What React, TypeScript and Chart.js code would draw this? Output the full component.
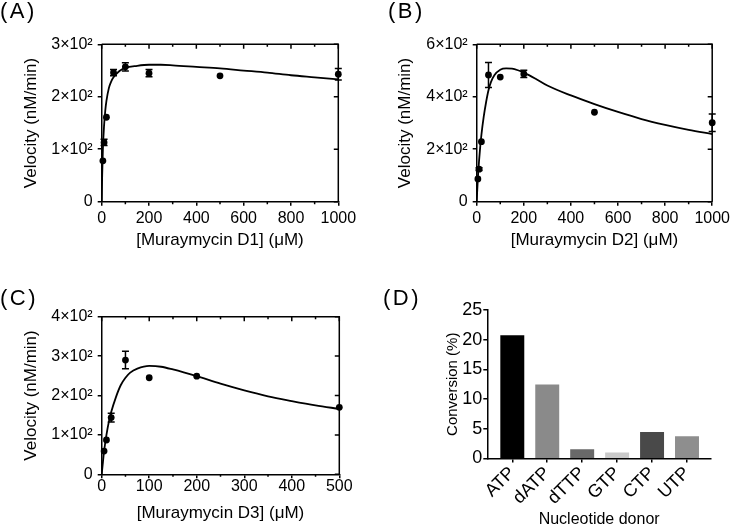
import React, { useEffect, useRef } from 'react';
import { Chart, registerables } from 'chart.js';

Chart.register(...registerables);

const FONT = "'Liberation Sans', Arial, Helvetica, sans-serif";
Chart.defaults.font.family = FONT;
Chart.defaults.color = '#000';

// ---------- Panel A: Muraymycin D1 ----------
const concA = [5, 10, 20, 50, 100, 200, 500, 1000];
const velA = [78, 113, 161, 246, 257, 245, 240, 243];
const errA = [0, 6, 0, 6, 8, 7, 0, 11];
const fitXA = [0, 2, 5, 10, 15, 20, 30, 40, 50, 75, 100, 150, 200, 250, 300, 400, 500, 600, 700, 800, 900, 1000];
const fitYA = [0, 50, 100, 145, 173, 192, 216, 229, 237, 249, 255, 259, 261, 261, 260, 257, 254, 250, 246, 241, 237, 233];
const yLabelsA = ['0', '1×10²', '2×10²', '3×10²'];

// ---------- Panel B: Muraymycin D2 ----------
const concB = [5, 10, 20, 50, 100, 200, 500, 1000];
const velB = [87, 124, 229, 483, 475, 487, 341, 301];
const errB = [0, 5, 0, 48, 0, 14, 0, 33];
const fitXB = [0, 2, 5, 10, 15, 20, 30, 40, 50, 60, 75, 100, 125, 150, 175, 200, 250, 300, 400, 500, 600, 700, 800, 900, 1000];
const fitYB = [0, 38, 90, 155, 210, 255, 325, 380, 425, 455, 482, 503, 508, 507, 501, 492, 469, 443, 405, 372, 342, 315, 293, 274, 258];
const yLabelsB = ['0', '2×10²', '4×10²', '6×10²'];

// ---------- Panel C: Muraymycin D3 ----------
const concC = [5, 10, 20, 50, 100, 200, 500];
const velC = [59, 87, 144, 290, 245, 249, 170];
const errC = [0, 0, 11, 22, 0, 0, 0];
const fitXC = [0, 2, 5, 10, 15, 20, 30, 40, 50, 60, 75, 100, 125, 150, 200, 250, 300, 350, 400, 450, 500];
const fitYC = [0, 24, 58, 100, 133, 158, 196, 226, 245, 258, 268, 275, 273, 266, 249, 230, 213, 198, 186, 175, 166];
const yLabelsC = ['0', '1×10²', '2×10²', '3×10²', '4×10²'];

// ---------- Panel D: Nucleotide donors ----------
const donors = ['ATP', 'dATP', 'dTTP', 'GTP', 'CTP', 'UTP'];
const conversion = [20.7, 12.4, 1.5, 0.95, 4.4, 3.7];
const barColors = ['#000000', '#8a8a8a', '#696969', '#cacaca', '#494949', '#8e8e8e'];

const framePlugin = {
  id: 'frame',
  beforeDatasetsDraw(chart: any, _args: any, opts: any) {
    if (!opts || !opts.enabled) return;
    const { ctx, chartArea: a } = chart;
    const x = chart.scales.x;
    const y = chart.scales.y;
    ctx.save();
    ctx.strokeStyle = '#000';
    ctx.lineWidth = 1.5;
    ctx.beginPath();
    ctx.moveTo(a.left, a.top);
    ctx.lineTo(a.right, a.top);
    ctx.lineTo(a.right, a.bottom);
    ctx.stroke();
    ctx.beginPath();
    x.ticks.forEach((t: any) => {
      const px = x.getPixelForValue(t.value);
      ctx.moveTo(px, a.top);
      ctx.lineTo(px, a.top + 4.5);
    });
    (opts.xMinor || []).forEach((v: number) => {
      const px = x.getPixelForValue(v);
      ctx.moveTo(px, a.top);
      ctx.lineTo(px, a.top + 2.5);
      ctx.moveTo(px, a.bottom);
      ctx.lineTo(px, a.bottom + 2.5);
    });
    y.ticks.forEach((t: any) => {
      const py = y.getPixelForValue(t.value);
      ctx.moveTo(a.right, py);
      ctx.lineTo(a.right - 4.5, py);
    });
    ctx.stroke();
    ctx.restore();
  },
};

const errorBarPlugin = {
  id: 'errorBars',
  afterDatasetsDraw(chart: any, _args: any, opts: any) {
    if (!opts || !opts.errors) return;
    const ds = chart.data.datasets[opts.datasetIndex];
    const x = chart.scales.x;
    const y = chart.scales.y;
    const ctx = chart.ctx;
    ctx.save();
    ctx.strokeStyle = '#000';
    ctx.lineWidth = 1.5;
    ds.data.forEach((d: any, i: number) => {
      const e = opts.errors[i];
      if (!e) return;
      const px = x.getPixelForValue(d.x);
      const top = y.getPixelForValue(d.y + e);
      const bot = y.getPixelForValue(d.y - e);
      ctx.beginPath();
      ctx.moveTo(px, top);
      ctx.lineTo(px, bot);
      ctx.moveTo(px - 3.5, top);
      ctx.lineTo(px + 3.5, top);
      ctx.moveTo(px - 3.5, bot);
      ctx.lineTo(px + 3.5, bot);
      ctx.stroke();
    });
    ctx.restore();
  },
};

Chart.register(framePlugin as any, errorBarPlugin as any);

const axisGrid = {
  display: true,
  drawOnChartArea: false,
  drawTicks: true,
  tickLength: 4,
  color: '#000',
  lineWidth: 1.5,
  offset: false,
};
const axisBorder = { display: true, color: '#000', width: 1.5 };

interface KParams {
  conc: number[]; vel: number[]; err: number[]; fitX: number[]; fitY: number[];
  yLabels: string[]; xMax: number; xStep: number; yMax: number; yStep: number; xMinor: number[];
  xTitle: string; padding: any; yAxisW: number; xAxisH: number; xTickPad: number;
  xTitlePad: number; yTitlePad: number;
}

function kineticConfig(p: KParams): any {
  return {
    type: 'scatter',
    data: {
      datasets: [
        {
          type: 'line',
          data: p.fitX.map((x, i) => ({ x, y: p.fitY[i] })),
          borderColor: '#000',
          borderWidth: 1.8,
          pointRadius: 0,
          showLine: true,
          fill: false,
          cubicInterpolationMode: 'monotone',
        },
        {
          type: 'scatter',
          data: p.conc.map((x, i) => ({ x, y: p.vel[i] })),
          backgroundColor: '#000',
          borderColor: '#000',
          pointRadius: 3.4,
          borderWidth: 0,
          clip: false,
        },
      ],
    },
    options: {
      responsive: false,
      animation: false,
      events: [],
      layout: { padding: p.padding },
      plugins: {
        legend: { display: false },
        tooltip: { enabled: false },
        frame: { enabled: true, xMinor: p.xMinor },
        errorBars: { errors: p.err, datasetIndex: 1 },
      },
      scales: {
        x: {
          type: 'linear',
          min: 0,
          max: p.xMax,
          ticks: {
            stepSize: p.xStep, padding: p.xTickPad, font: { size: 16 }, maxRotation: 0, color: '#000',
            callback: (v: any) => String(v),
          },
          grid: axisGrid,
          border: axisBorder,
          title: { display: true, text: p.xTitle, font: { size: 17 }, color: '#000', padding: { top: 0, bottom: p.xTitlePad } },
          afterFit: (s: any) => { s.height = p.xAxisH; },
        },
        y: {
          type: 'linear',
          min: 0,
          max: p.yMax,
          ticks: { stepSize: p.yStep, padding: 5, font: { size: 16 }, color: '#000', callback: (_v: any, i: number) => p.yLabels[i] },
          grid: axisGrid,
          border: axisBorder,
          title: { display: true, text: 'Velocity (nM/min)', font: { size: 17 }, color: '#000', padding: { top: p.yTitlePad, bottom: 0 } },
          afterFit: (s: any) => { s.width = p.yAxisW; },
        },
      },
    },
  };
}

function barConfig(): any {
  return {
    type: 'bar',
    data: {
      datasets: [
        {
          data: donors.map((_, i) => ({ x: i, y: conversion[i] })),
          backgroundColor: barColors,
          borderWidth: 0,
          barThickness: 23.3,
        },
      ],
    },
    options: {
      responsive: false,
      animation: false,
      events: [],
      layout: { padding: { left: 0, top: 48, right: 22, bottom: 0 } },
      plugins: { legend: { display: false }, tooltip: { enabled: false } },
      scales: {
        x: {
          type: 'linear',
          min: -0.7155,
          max: 5.687,
          offset: false,
          afterBuildTicks: (s: any) => { s.ticks = donors.map((_, i) => ({ value: i })); },
          ticks: {
            autoSkip: false,
            minRotation: 45,
            maxRotation: 45,
            padding: 0,
            font: { size: 18 },
            color: '#000',
            callback: (v: any) => donors[Math.round(v)],
          },
          grid: axisGrid,
          border: axisBorder,
          title: { display: true, text: 'Nucleotide donor', font: { size: 16 }, color: '#000', padding: { top: 0, bottom: -1.6 } },
          afterFit: (s: any) => { s.height = 69.5; },
        },
        y: {
          type: 'linear',
          min: 0,
          max: 25,
          ticks: { stepSize: 5, padding: 1, font: { size: 18 }, color: '#000' },
          grid: axisGrid,
          border: axisBorder,
          title: { display: true, text: 'Conversion (%)', font: { size: 15 }, color: '#000', padding: { top: 77.5, bottom: 0 } },
          afterFit: (s: any) => { s.width = 121.3; },
        },
      },
    },
  };
}

function Panel({ left, top, w, h, make }: { left: number; top: number; w: number; h: number; make: () => any }) {
  const ref = useRef<HTMLCanvasElement | null>(null);
  useEffect(() => {
    if (!ref.current) return;
    const chart = new Chart(ref.current, make());
    return () => chart.destroy();
  }, []);
  return (
    <canvas
      ref={ref}
      width={w}
      height={h}
      style={{ position: 'absolute', left, top, width: w, height: h, display: 'block' }}
    />
  );
}

const letterStyle: React.CSSProperties = {
  position: 'absolute',
  fontFamily: FONT,
  fontSize: 22,
  lineHeight: '22px',
  letterSpacing: 2.5,
  color: '#000',
  whiteSpace: 'nowrap',
};

export default function App() {
  return (
    <div style={{ position: 'absolute', left: 0, top: 0, width: 733, height: 528, background: '#fff', overflow: 'hidden' }}>
      <Panel
        left={0} top={0} w={366} h={262}
        make={() => kineticConfig({
          conc: concA, vel: velA, err: errA, fitX: fitXA, fitY: fitYA, yLabels: yLabelsA,
          xMax: 1000, xStep: 200, yMax: 300, yStep: 100, xMinor: [100, 300, 500, 700, 900],
          xTitle: '[Muraymycin D1] (μM)', padding: { left: 0, top: 44.3, right: 27.7, bottom: 0 },
          yAxisW: 101.7, xAxisH: 60.3, xTickPad: 3, xTitlePad: 11.8, yTitlePad: 20.8,
        })}
      />
      <Panel
        left={366} top={0} w={367} h={262}
        make={() => kineticConfig({
          conc: concB, vel: velB, err: errB, fitX: fitXB, fitY: fitYB, yLabels: yLabelsB,
          xMax: 1000, xStep: 200, yMax: 600, yStep: 200, xMinor: [100, 300, 500, 700, 900],
          xTitle: '[Muraymycin D2] (μM)', padding: { left: 0, top: 44.3, right: 18.7, bottom: 0 },
          yAxisW: 110.7, xAxisH: 60.3, xTickPad: 3, xTitlePad: 11.8, yTitlePad: 29.3,
        })}
      />
      <Panel
        left={0} top={262} w={366} h={266}
        make={() => kineticConfig({
          conc: concC, vel: velC, err: errC, fitX: fitXC, fitY: fitYC, yLabels: yLabelsC,
          xMax: 500, xStep: 100, yMax: 400, yStep: 100, xMinor: [50, 150, 250, 350, 450],
          xTitle: '[Muraymycin D3] (μM)', padding: { left: 0, top: 54.7, right: 26.7, bottom: 0 },
          yAxisW: 101.7, xAxisH: 53.7, xTickPad: -1.2, xTitlePad: 4.5, yTitlePad: 20.8,
        })}
      />
      <Panel left={366} top={262} w={367} h={266} make={barConfig} />
      <div style={{ ...letterStyle, left: 0, top: 0 }}>(A)</div>
      <div style={{ ...letterStyle, left: 388, top: 0 }}>(B)</div>
      <div style={{ ...letterStyle, left: 0, top: 287 }}>(C)</div>
      <div style={{ ...letterStyle, left: 383, top: 287 }}>(D)</div>
    </div>
  );
}
